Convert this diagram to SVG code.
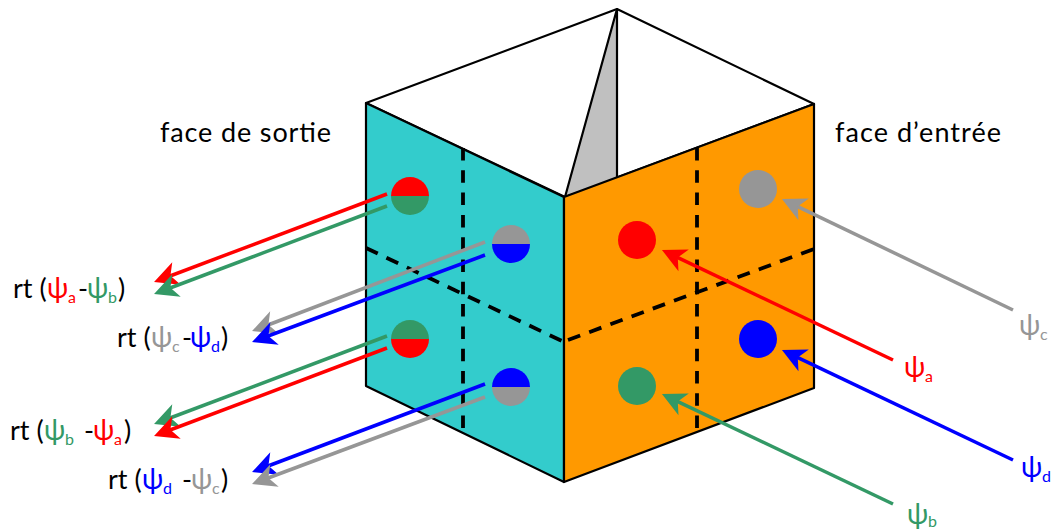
<svg xmlns="http://www.w3.org/2000/svg" width="1053" height="532" viewBox="0 0 1053 532">
<style>
text{font-family:"Lato","Noto Sans",sans-serif;font-size:27px;fill:#000}
.p{font-size:28px}
.s{font-size:16px}
.a{fill:#f00}.b{fill:#339966}.c{fill:#969696}.d{fill:#00f}
.face{stroke:#000;stroke-width:2.2;stroke-linejoin:round}
.dash{fill:none;stroke:#000;stroke-width:3.8}
.dv{stroke-dasharray:12.5 9.8}
.dh{stroke-dasharray:13 9.6}
.l{fill:none;stroke-width:3.5}
</style>
<defs>
<path id="head" d="M25 14L1 2L7.5 14L1 26Z"/>
<marker id="ma" markerUnits="userSpaceOnUse" markerWidth="26" markerHeight="28" refX="15" refY="14" orient="auto" viewBox="0 0 26 28" overflow="visible"><use href="#head" fill="#f00"/></marker>
<marker id="mb" markerUnits="userSpaceOnUse" markerWidth="26" markerHeight="28" refX="15" refY="14" orient="auto" viewBox="0 0 26 28" overflow="visible"><use href="#head" fill="#339966"/></marker>
<marker id="mc" markerUnits="userSpaceOnUse" markerWidth="26" markerHeight="28" refX="15" refY="14" orient="auto" viewBox="0 0 26 28" overflow="visible"><use href="#head" fill="#969696"/></marker>
<marker id="md" markerUnits="userSpaceOnUse" markerWidth="26" markerHeight="28" refX="15" refY="14" orient="auto" viewBox="0 0 26 28" overflow="visible"><use href="#head" fill="#00f"/></marker>
</defs>
<g id="cube">
<path class="face" fill="#fff" d="M366 103L617 9L814 104L565 197Z"/>
<path class="face" fill="#c0c0c0" d="M617 9L617 179L565 197Z"/>
<path class="face" fill="#33cccc" d="M366 103L564 197L564 482L366 386Z"/>
<path class="face" fill="#ff9900" d="M564 197L814 104L814 388L564 482Z"/>
<path class="dash dv" d="M463 148V431M697 148V431"/>
<path class="dash dh" d="M366 248L564 342M568 340L814 249"/>
</g>
<g id="node-face-sortie"><text x="160" y="142" textLength="171" lengthAdjust="spacing">face de sortie</text></g>
<g id="node-face-entree"><text x="835" y="142" textLength="166" lengthAdjust="spacing">face d’entrée</text></g>
<g id="node-s1"><path class="a" d="M391 196a19 19 0 0 1 38 0Z"/><path class="b" d="M391 196a19 19 0 0 0 38 0Z"/></g>
<g id="node-s2"><path class="c" d="M492 244a19 19 0 0 1 38 0Z"/><path class="d" d="M492 244a19 19 0 0 0 38 0Z"/></g>
<g id="node-s3"><path class="b" d="M391 339a19 19 0 0 1 38 0Z"/><path class="a" d="M391 339a19 19 0 0 0 38 0Z"/></g>
<g id="node-s4"><path class="d" d="M492 387a19 19 0 0 1 38 0Z"/><path class="c" d="M492 387a19 19 0 0 0 38 0Z"/></g>
<g id="node-ea"><circle class="a" cx="637" cy="240" r="19"/></g>
<g id="node-ec"><circle class="c" cx="758" cy="189" r="19"/></g>
<g id="node-ed"><circle class="d" cx="758" cy="339" r="19"/></g>
<g id="node-eb"><circle class="b" cx="637" cy="386" r="19"/></g>
<g id="connectors">
<path class="l" stroke="#f00" marker-end="url(#ma)" d="M387 194L163.4 278.5"/>
<path class="l" stroke="#339966" marker-end="url(#mb)" d="M387 206L163.4 290.5"/>
<path class="l" stroke="#969696" marker-end="url(#mc)" d="M485 242L261.4 327.5"/>
<path class="l" stroke="#00f" marker-end="url(#md)" d="M485 255L261.4 338.5"/>
<path class="l" stroke="#339966" marker-end="url(#mb)" d="M387 336L163.4 420.5"/>
<path class="l" stroke="#f00" marker-end="url(#ma)" d="M387 348L163.4 432.5"/>
<path class="l" stroke="#00f" marker-end="url(#md)" d="M485 384L261.4 468.5"/>
<path class="l" stroke="#969696" marker-end="url(#mc)" d="M485 397L261.4 480.5"/>
<path class="l" stroke="#969696" marker-end="url(#mc)" d="M1013 310L791 203.3"/>
<path class="l" stroke="#00f" marker-end="url(#md)" d="M1013 460L791 354.3"/>
<path class="l" stroke="#f00" marker-end="url(#ma)" d="M893 360L671 254.3"/>
<path class="l" stroke="#339966" marker-end="url(#mb)" d="M893 504L671 398.3"/>
</g>
<g id="node-lab1"><text x="13" y="298">rt (</text><text class="p a" x="47" y="298">ψ</text><text class="s a" x="68" y="303">a</text><text x="78" y="298">-</text><text class="p b" x="87" y="298">ψ</text><text class="s b" x="108" y="303">b</text><text x="118" y="298">)</text></g>
<g id="node-lab2"><text x="117" y="347">rt (</text><text class="p c" x="151" y="347">ψ</text><text class="s c" x="172" y="352">c</text><text x="182" y="347">-</text><text class="p d" x="190" y="347">ψ</text><text class="s d" x="211" y="352">d</text><text x="221" y="347">)</text></g>
<g id="node-lab3"><text x="10" y="440">rt (</text><text class="p b" x="44" y="440">ψ</text><text class="s b" x="65" y="445">b</text><text x="84" y="440">-</text><text class="p a" x="93" y="440">ψ</text><text class="s a" x="114" y="445">a</text><text x="124" y="440">)</text></g>
<g id="node-lab4"><text x="108" y="489">rt (</text><text class="p d" x="142" y="489">ψ</text><text class="s d" x="163" y="494">d</text><text x="182" y="489">-</text><text class="p c" x="191" y="489">ψ</text><text class="s c" x="212" y="494">c</text><text x="221" y="489">)</text></g>
<g id="node-pc"><text class="p c" x="1019" y="335">ψ</text><text class="s c" x="1040" y="340">c</text></g>
<g id="node-pa"><text class="p a" x="904" y="377">ψ</text><text class="s a" x="925" y="382">a</text></g>
<g id="node-pd"><text class="p d" x="1021" y="477">ψ</text><text class="s d" x="1042" y="482">d</text></g>
<g id="node-pb"><text class="p b" x="907" y="524">ψ</text><text class="s b" x="928" y="527">b</text></g>
</svg>
